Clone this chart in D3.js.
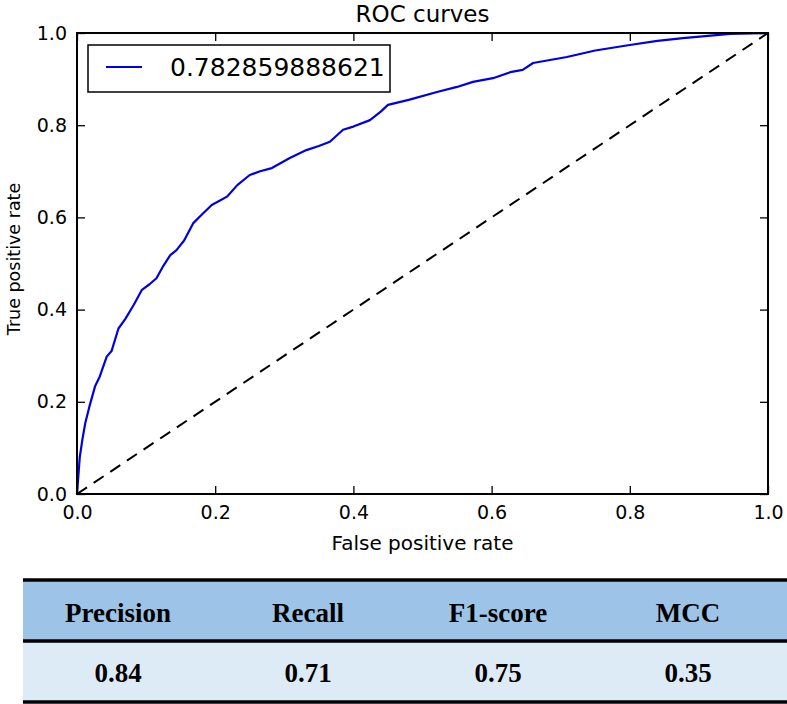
<!DOCTYPE html>
<html>
<head>
<meta charset="utf-8">
<script src="https://cdn.jsdelivr.net/npm/d3@7"></script>
<style>
  body { margin: 0; background: #fff; }
  svg text { font-family: "DejaVu Sans", sans-serif; fill: #000; }
  .tbl text { font-family: "Liberation Serif", "Times New Roman", serif; font-weight: bold; }
</style>
</head>
<body>
<div id="chart"></div>
<script>
'use strict';

// ROC curve points
var fpr = [0, 0.002, 0.004, 0.008, 0.012, 0.018, 0.026, 0.033, 0.043, 0.050, 0.060, 0.070,
           0.082, 0.094, 0.105, 0.115, 0.125, 0.135, 0.144, 0.155, 0.168, 0.180, 0.195, 0.205,
           0.217, 0.232, 0.250, 0.265, 0.282, 0.308, 0.332, 0.350, 0.366, 0.385, 0.400, 0.424,
           0.440, 0.450, 0.480, 0.521, 0.550, 0.573, 0.602, 0.627, 0.645, 0.660, 0.709, 0.750,
           0.800, 0.840, 0.877, 0.945, 1.0];
var tpr = [0, 0.040, 0.080, 0.120, 0.154, 0.190, 0.233, 0.255, 0.298, 0.310, 0.359, 0.380,
           0.410, 0.443, 0.455, 0.468, 0.495, 0.518, 0.529, 0.550, 0.587, 0.605, 0.627, 0.635,
           0.645, 0.670, 0.692, 0.700, 0.707, 0.729, 0.746, 0.755, 0.764, 0.790, 0.797, 0.811,
           0.830, 0.844, 0.855, 0.872, 0.883, 0.894, 0.902, 0.915, 0.920, 0.935, 0.948, 0.962,
           0.974, 0.983, 0.989, 0.998, 1.0];
var chance = [0, 1];
var legendLabel = '0.782859888621';
var ticks = [0.0, 0.2, 0.4, 0.6, 0.8, 1.0];

var metricNames = ['Precision', 'Recall', 'F1-score', 'MCC'];
var metricValues = ['0.84', '0.71', '0.75', '0.35'];

var W = 787, H = 704,
    pL = 77, pR = 768, pT = 33, pB = 494;

var svg = d3.select('#chart').append('svg')
    .attr('width', W)
    .attr('height', H);

var x = d3.scaleLinear().domain([0, 1]).range([pL, pR]),
    y = d3.scaleLinear().domain([0, 1]).range([pB, pT]);

// title
svg.append('text')
    .attr('x', (pL + pR) / 2)
    .attr('y', 22)
    .attr('text-anchor', 'middle')
    .attr('font-size', '23px')
    .text('ROC curves');

// diagonal chance line
svg.append('path')
    .datum(chance)
    .attr('d', d3.line().x(function(d){ return x(d); }).y(function(d){ return y(d); }))
    .attr('fill', 'none')
    .attr('stroke', '#000')
    .attr('stroke-width', 2)
    .attr('stroke-dasharray', '12,8');

// roc curve
var pts = fpr.map(function(f, i){ return [f, tpr[i]]; });
svg.append('path')
    .datum(pts)
    .attr('d', d3.line().x(function(d){ return x(d[0]); }).y(function(d){ return y(d[1]); }))
    .attr('fill', 'none')
    .attr('stroke', '#0000e0')
    .attr('stroke-width', 2.2)
    .attr('stroke-linejoin', 'round');

// axes, ticks pointing inward like matplotlib classic
var fmt = d3.format('.1f');
var gx = svg.append('g').attr('transform', 'translate(0,' + pB + ')')
    .call(d3.axisBottom(x).tickValues(ticks).tickFormat(fmt).tickSize(-8).tickPadding(11.5));
var gy = svg.append('g').attr('transform', 'translate(' + pL + ',0)')
    .call(d3.axisLeft(y).tickValues(ticks).tickFormat(fmt).tickSize(-8).tickPadding(10));
var gt = svg.append('g').attr('transform', 'translate(0,' + pT + ')')
    .call(d3.axisTop(x).tickValues(ticks).tickFormat('').tickSize(-8));
var gr = svg.append('g').attr('transform', 'translate(' + pR + ',0)')
    .call(d3.axisRight(y).tickValues(ticks).tickFormat('').tickSize(-8));

[gx, gy, gt, gr].forEach(function(g){
    g.select('.domain').remove();
    g.selectAll('line').attr('stroke', '#000').attr('stroke-width', 1.3);
    g.selectAll('text').attr('font-size', '19px').attr('font-family', '"DejaVu Sans", sans-serif').attr('fill', '#000');
});

// frame
svg.append('rect')
    .attr('x', pL).attr('y', pT)
    .attr('width', pR - pL).attr('height', pB - pT)
    .attr('fill', 'none')
    .attr('stroke', '#000')
    .attr('stroke-width', 2);

// axis labels
svg.append('text')
    .attr('x', (pL + pR) / 2)
    .attr('y', 550)
    .attr('text-anchor', 'middle')
    .attr('font-size', '20px')
    .text('False positive rate');

svg.append('text')
    .attr('transform', 'translate(20,259) rotate(-90)')
    .attr('text-anchor', 'middle')
    .attr('font-size', '17.5px')
    .text('True positive rate');

// legend
var lg = svg.append('g');
lg.append('rect')
    .attr('x', 88).attr('y', 45)
    .attr('width', 302).attr('height', 47)
    .attr('fill', '#fff')
    .attr('stroke', '#000')
    .attr('stroke-width', 1.5);
lg.append('line')
    .attr('x1', 106).attr('x2', 142)
    .attr('y1', 67).attr('y2', 67)
    .attr('stroke', '#0000e0')
    .attr('stroke-width', 2);
lg.append('text')
    .attr('x', 170).attr('y', 76)
    .attr('font-size', '25px')
    .text(legendLabel);

// metrics table underneath
var tx = 23, tw = W - tx, colW = 190,
    rowTop = 580, rowMid = 641, rowBot = 702;
var tbl = svg.append('g').attr('class', 'tbl');
tbl.append('rect').attr('x', tx).attr('y', rowTop).attr('width', tw).attr('height', rowMid - rowTop).attr('fill', '#9dc3e6');
tbl.append('rect').attr('x', tx).attr('y', rowMid).attr('width', tw).attr('height', rowBot - rowMid).attr('fill', '#ddebf7');
[rowTop, rowMid, rowBot].forEach(function(yy){
    tbl.append('line')
        .attr('x1', tx).attr('x2', W)
        .attr('y1', yy).attr('y2', yy)
        .attr('stroke', '#000')
        .attr('stroke-width', 3.5);
});

var colX = d3.scaleBand().domain(metricNames).range([tx, tx + colW * metricNames.length]);

tbl.selectAll('text.hdr').data(metricNames).enter()
    .append('text')
    .attr('class', 'hdr')
    .attr('x', function(d){ return colX(d) + colX.bandwidth() / 2; })
    .attr('y', 622)
    .attr('text-anchor', 'middle')
    .attr('font-size', '27px')
    .text(function(d){ return d; });

tbl.selectAll('text.val').data(metricValues).enter()
    .append('text')
    .attr('class', 'val')
    .attr('x', function(d, i){ return colX(metricNames[i]) + colX.bandwidth() / 2; })
    .attr('y', 682)
    .attr('text-anchor', 'middle')
    .attr('font-size', '27px')
    .text(function(d){ return d; });
</script>
</body>
</html>
